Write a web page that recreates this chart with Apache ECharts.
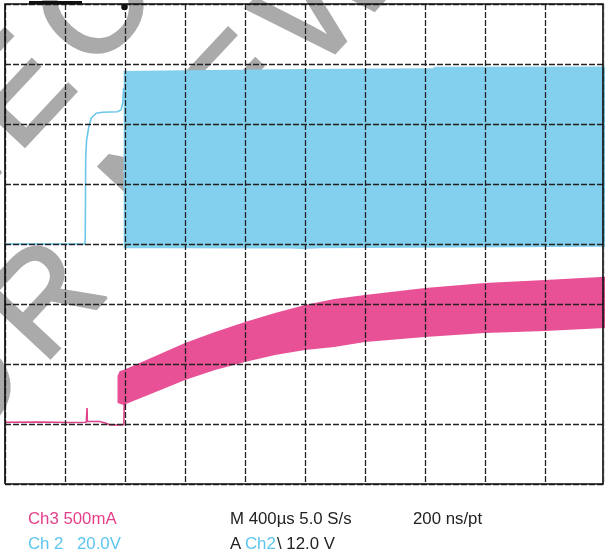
<!DOCTYPE html>
<html>
<head>
<meta charset="utf-8">
<script src="https://cdn.jsdelivr.net/npm/echarts@6/dist/echarts.min.js"></script>
<style>
html,body{margin:0;padding:0;background:#fff;}
#chart{width:605px;height:559px;}
</style>
</head>
<body>
<div id="chart"></div>
<script>
// Time axis (µs, 400 µs/div), trigger at 0
const timeMin = -800;
const timeMax = 3200;
const timeStep = 400;
// Ch2 voltage axis (20 V/div)
const ch2Min = -80, ch2Max = 80, ch2Step = 20;
// Ch3 current axis (500 mA/div)
const ch3Min = -500, ch3Max = 3500, ch3Step = 500;

// Ch2 (V): pre-switching trace
const ch2Trace = [[-800,0],[-268,0],[-265,2],[-262,29],[-256,34.7],[-241,39.1],[-225,42],[-192,43.6],[-150,43.9],[-50,44.1],[-26,44.7],[-15,47],[-9,52]];
// Ch2 (V): switching envelope
const ch2BandTop = [[-9,57.7],[400,57.9],[1200,58.3],[2050,58.6],[2065,59.1],[3200,59.2]];
const ch2BandBottom = [[-9,-1.4],[1100,-1.5],[1190,-1.7],[1300,-1.4],[3200,-0.9]];

// Ch3 (mA): pre-switching trace
const ch3Trace = [[-800,15],[-568,17],[-369,12],[-258,15],[-254,15],[-253,133],[-251,22],[-170,21],[-130,8],[-100,-8],[-30,-8],[-8,-6],[-5,175]];
// Ch3 (mA): ripple envelope
const ch3BandTop = [[-50,400],[-35,442],[-10,450],[188,558],[400,675],[600,767],[800,850],[1000,925],[1200,992],[1395,1042],[1600,1075],[2000,1133],[2400,1175],[2800,1200],[3200,1228]];
const ch3BandBottom = [[-50,175],[-10,158],[188,258],[400,367],[600,450],[800,517],[1000,575],[1200,617],[1395,642],[1600,683],[2000,725],[2400,758],[2800,775],[3200,800]];

// Watermark text lines
const watermarkLine1 = 'NOT RECOMMENDED';
const watermarkLine2 = 'FOR NEW DESIGN';

const blue = '#83cfee';
const blueLine = '#6cc6ec';
const pink = '#e85196';
const pinkLine = '#e0408a';

const chart = echarts.init(document.getElementById('chart'), null, {renderer: 'canvas'});

function band(top, bottom, yIdx, color) {
  return {
    type: 'custom', xAxisIndex: 0, yAxisIndex: yIdx, data: [0], z: 2, silent: true,
    renderItem: function (params, api) {
      const pts = top.map(p => api.coord(p)).concat(bottom.slice().reverse().map(p => api.coord(p)));
      return {type: 'polygon', shape: {points: pts}, style: {fill: color}};
    }
  };
}

// Watermark: letters laid out along a rotated baseline
const charW = {N:.722,O:.778,T:.611,' ':.278,R:.722,E:.667,C:.722,M:.833,D:.722,F:.611,W:.944,S:.667,I:.278,G:.778};
const wmSize = 138, wmGap = 17.5, wmAngle = 47 * Math.PI / 180;
function wmLine(text, anchorIdx, ax, ay) {
  const centers = []; let cum = 0;
  for (let i = 0; i < text.length; i++) {
    const w = charW[text[i]] * wmSize;
    centers.push(cum + w / 2); cum += w + wmGap;
  }
  const ref = centers[anchorIdx];
  const kids = [];
  for (let i = 0; i < text.length; i++) {
    if (text[i] === ' ') continue;
    kids.push({type: 'text', x: centers[i] - ref, y: 0, z: 1,
      style: {text: text[i], font: wmSize + 'px "Liberation Sans", Arial, sans-serif', fill: '#aaaaaa',
        stroke: '#aaaaaa', lineWidth: 3,
        align: 'center', verticalAlign: 'middle', textAlign: 'center', textVerticalAlign: 'middle'}});
  }
  return {type: 'group', x: ax, y: ay, rotation: wmAngle, z: 1, silent: true, children: kids};
}

const splitStyle = {color: '#222', width: 1.3, type: [6, 2]};
const txtFont = '16.8px "Liberation Sans", Arial, sans-serif';

function label(x, y, text, color) {
  return {type: 'text', x: x, y: y, z: 20, style: {text: text, font: txtFont, fill: color,
    align: 'left', verticalAlign: 'middle', textAlign: 'left', textVerticalAlign: 'middle'}};
}

const option = {
  backgroundColor: '#fff',
  animation: false,
  grid: {left: 5, top: 4, width: 603, height: 480, show: false},
  xAxis: {
    type: 'value', min: timeMin, max: timeMax, interval: timeStep, z: 10,
    axisLine: {show: false}, axisTick: {show: false}, axisLabel: {show: false},
    splitLine: {show: true, lineStyle: splitStyle}
  },
  yAxis: [
    {type: 'value', min: ch2Min, max: ch2Max, interval: ch2Step, z: 10,
     axisLine: {show: false}, axisTick: {show: false}, axisLabel: {show: false},
     splitLine: {show: true, lineStyle: splitStyle}},
    {type: 'value', min: ch3Min, max: ch3Max, interval: ch3Step,
     axisLine: {show: false}, axisTick: {show: false}, axisLabel: {show: false},
     splitLine: {show: false}}
  ],
  series: [
    band(ch2BandTop, ch2BandBottom, 0, blue),
    band(ch3BandTop, ch3BandBottom, 1, pink),
    {type: 'line', yAxisIndex: 0, data: ch2Trace, showSymbol: false, z: 3, silent: true,
     lineStyle: {color: blueLine, width: 1.6}},
    {type: 'line', yAxisIndex: 1, data: ch3Trace, showSymbol: false, z: 3, silent: true,
     lineStyle: {color: pinkLine, width: 1.6}}
  ],
  graphic: [
    wmLine(watermarkLine1, 6, 98, 12),
    wmLine(watermarkLine2, 4, 167, 177),
    {type: 'polyline', z: 15, silent: true, shape: {points: [[5,484],[5,4],[603,4],[603,484],[5,484]]},
     style: {stroke: '#151515', lineWidth: 1.7, fill: null}},
    {type: 'rect', z: 16, silent: true, shape: {x: 29, y: 1, width: 53, height: 3}, style: {fill: '#111'}},
    {type: 'circle', z: 16, silent: true, shape: {cx: 124.5, cy: 7, r: 3.3}, style: {fill: '#111'}},
    label(28, 519.5, 'Ch3 500mA', '#e53f8a'),
    label(28, 544.5, 'Ch 2', '#5cc5ee'),
    label(77, 544.5, '20.0V', '#5cc5ee'),
    label(230, 519.5, 'M 400µs 5.0 S/s', '#222'),
    label(413, 519.5, '200 ns/pt', '#222'),
    label(230, 544.5, 'A', '#222'),
    label(245, 544.5, 'Ch2', '#5cc5ee'),
    label(277, 544.5, '\\ 12.0 V', '#222')
  ]
};
chart.setOption(option);
</script>
</body>
</html>
